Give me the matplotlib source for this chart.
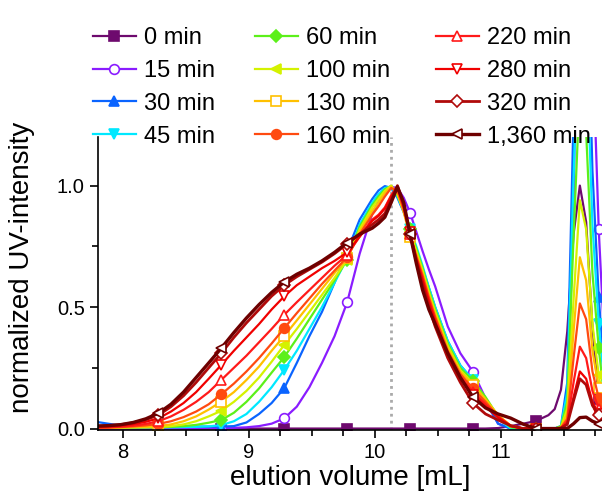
import matplotlib
matplotlib.use("Agg")
import matplotlib.pyplot as plt
import numpy as np

plt.rcParams['font.family'] = ['Liberation Sans', 'DejaVu Sans']

# elution volume grid (mL), shared by all traces
elution = [7.78, 7.88, 7.98, 8.08, 8.18, 8.28, 8.38, 8.48, 8.58, 8.68,
           8.78, 8.88, 8.98, 9.08, 9.18, 9.28, 9.38, 9.48, 9.58, 9.68,
           9.78, 9.88, 9.98,
           10.03, 10.08, 10.13, 10.18, 10.23, 10.28, 10.33, 10.38, 10.43, 10.48,
           10.58, 10.68, 10.78, 10.88, 10.98, 11.08, 11.18, 11.28, 11.38,
           11.43, 11.48, 11.53, 11.58, 11.63, 11.68, 11.73, 11.78, 11.83]
marker_x = [8.28, 8.78, 9.28, 9.78, 10.28, 10.78, 11.28, 11.78]

labels = ["0 min", "15 min", "30 min", "45 min", "60 min", "100 min",
          "130 min", "160 min", "220 min", "280 min", "320 min", "1,360 min"]

min0 = [0, 0, 0, 0, 0, 0, 0, 0, 0, 0, 0, 0, 0, 0, 0, 0, 0, 0, 0, 0, 0, 0, 0,
        0, 0, 0, 0, 0, 0, 0, 0, 0, 0,
        0, 0, 0, 0, 0.002, 0.01, 0.02, 0.031, 0.055,
        0.08, 0.16, 0.40, 0.80, 1.0, 0.85, 0.42, 0.12, 0.03]
min15 = [0, 0, 0, 0, 0, 0, 0, 0, 0, 0.001, 0.002, 0.003, 0.005, 0.01, 0.02,
         0.042, 0.09, 0.17, 0.27, 0.38, 0.519, 0.72, 0.885,
         0.935, 0.97, 0.995, 0.99, 0.95, 0.889, 0.81, 0.73, 0.655, 0.585,
         0.42, 0.31, 0.234, 0.125, 0.02, 0, 0, 0, 0,
         0, 0, 0.1, 0.9, 2.6, 3.2, 1.6, 0.82, 0.3]
min30 = [0.028, 0.02, 0.012, 0.01, 0.009, 0.008, 0.008, 0.008, 0.008, 0.008,
         0.008, 0.01, 0.025, 0.06, 0.105, 0.166, 0.27, 0.38, 0.48, 0.60,
         0.73, 0.86, 0.945,
         0.98, 0.998, 0.99, 0.95, 0.89, 0.82, 0.74, 0.66, 0.58, 0.50,
         0.36, 0.26, 0.20, 0.11, 0.02, 0, 0, 0, 0,
         0, 0.01, 0.19, 1.29, 2.3, 2.0, 1.06, 0.54, 0.2]
min45 = [0.005, 0.005, 0.005, 0.005, 0.005, 0.005, 0.005, 0.006, 0.007, 0.009,
         0.014, 0.03, 0.06, 0.11, 0.17, 0.241, 0.32, 0.41, 0.50, 0.60,
         0.70, 0.84, 0.93,
         0.965, 0.99, 0.997, 0.955, 0.895, 0.82, 0.75, 0.67, 0.58, 0.50,
         0.36, 0.26, 0.20, 0.12, 0.04, 0, 0, 0, 0,
         0, 0.01, 0.15, 1.03, 1.83, 1.6, 0.84, 0.43, 0.15]
min60 = [0.004, 0.004, 0.004, 0.004, 0.005, 0.005, 0.007, 0.01, 0.015, 0.024,
         0.035, 0.065, 0.11, 0.165, 0.23, 0.294, 0.37, 0.45, 0.53, 0.61,
         0.695, 0.83, 0.92,
         0.955, 0.985, 0.998, 0.96, 0.90, 0.82, 0.74, 0.66, 0.57, 0.49,
         0.35, 0.25, 0.197, 0.13, 0.05, 0.005, 0, 0, 0,
         0, 0.01, 0.11, 0.79, 1.40, 1.22, 0.64, 0.33, 0.1]
min100 = [0.003, 0.003, 0.004, 0.005, 0.005, 0.006, 0.01, 0.017, 0.03, 0.05,
          0.073, 0.11, 0.155, 0.21, 0.275, 0.344, 0.41, 0.48, 0.55, 0.62,
          0.695, 0.82, 0.91,
          0.945, 0.978, 1.0, 0.965, 0.895, 0.81, 0.73, 0.65, 0.56, 0.48,
          0.34, 0.24, 0.185, 0.12, 0.055, 0.01, 0, 0, 0,
          0, 0.005, 0.08, 0.53, 0.94, 0.82, 0.43, 0.22, 0.07]
min130 = [0.003, 0.003, 0.004, 0.006, 0.008, 0.01, 0.017, 0.03, 0.05, 0.078,
          0.111, 0.15, 0.20, 0.255, 0.32, 0.381, 0.445, 0.51, 0.575, 0.64,
          0.70, 0.81, 0.895,
          0.93, 0.97, 0.995, 0.97, 0.89, 0.79, 0.72, 0.64, 0.55, 0.47,
          0.33, 0.235, 0.18, 0.12, 0.055, 0.012, 0, 0, 0,
          0, 0.004, 0.06, 0.40, 0.705, 0.61, 0.32, 0.167, 0.05]
min160 = [0.003, 0.004, 0.006, 0.009, 0.013, 0.019, 0.03, 0.047, 0.07, 0.10,
          0.141, 0.185, 0.235, 0.29, 0.35, 0.413, 0.475, 0.535, 0.595, 0.65,
          0.705, 0.80, 0.88,
          0.915, 0.955, 0.99, 0.98, 0.90, 0.80, 0.71, 0.63, 0.54, 0.46,
          0.32, 0.225, 0.165, 0.11, 0.05, 0.012, 0, 0, 0,
          0, 0.003, 0.04, 0.29, 0.515, 0.45, 0.235, 0.125, 0.04]
min220 = [0.004, 0.005, 0.008, 0.012, 0.019, 0.03, 0.05, 0.077, 0.11, 0.15,
          0.20, 0.25, 0.30, 0.355, 0.41, 0.468, 0.52, 0.57, 0.62, 0.67,
          0.715, 0.79, 0.86,
          0.88, 0.91, 0.96, 0.995, 0.91, 0.80, 0.70, 0.62, 0.53, 0.45,
          0.31, 0.215, 0.15, 0.10, 0.05, 0.01, 0, 0, 0,
          0, 0.002, 0.03, 0.19, 0.337, 0.29, 0.155, 0.08, 0.03]
min280 = [0.006, 0.008, 0.012, 0.018, 0.028, 0.042, 0.07, 0.105, 0.15, 0.205,
          0.262, 0.32, 0.375, 0.43, 0.49, 0.544, 0.59, 0.625, 0.66, 0.69,
          0.725, 0.79, 0.855,
          0.875, 0.905, 0.955, 0.995, 0.915, 0.81, 0.70, 0.61, 0.52, 0.44,
          0.30, 0.205, 0.14, 0.09, 0.045, 0.01, 0, 0, 0,
          0, 0.002, 0.02, 0.13, 0.235, 0.205, 0.11, 0.06, 0.02]
min320 = [0.01, 0.012, 0.016, 0.024, 0.037, 0.055, 0.09, 0.135, 0.19, 0.25,
          0.31, 0.375, 0.435, 0.49, 0.545, 0.59, 0.625, 0.655, 0.685, 0.72,
          0.76, 0.80, 0.84,
          0.86, 0.885, 0.94, 1.0, 0.92, 0.80, 0.69, 0.59, 0.50, 0.42,
          0.29, 0.19, 0.105, 0.06, 0.035, 0.012, 0, 0, 0,
          0, 0.002, 0.017, 0.115, 0.205, 0.18, 0.095, 0.055, 0.02]
min1360 = [0.01, 0.012, 0.016, 0.025, 0.04, 0.063, 0.10, 0.15, 0.21, 0.27,
           0.331, 0.395, 0.455, 0.51, 0.56, 0.603, 0.635, 0.66, 0.69, 0.725,
           0.765, 0.80, 0.825,
           0.845, 0.87, 0.93, 0.995, 0.93, 0.80, 0.68, 0.57, 0.49, 0.43,
           0.31, 0.21, 0.13, 0.085, 0.06, 0.043, 0.018, 0, 0,
           0, 0, 0, 0.02, 0.045, 0.047, 0.03, 0.02, 0.01]

traces = [min0, min15, min30, min45, min60, min100,
          min130, min160, min220, min280, min320, min1360]
colors = ["#6E0A6E", "#8A1CFF", "#0A64FF", "#00E8FF", "#5CF01A", "#D4F200",
          "#FFC000", "#FF4A10", "#FF1A1A", "#F00000", "#B00A0A", "#6E0000"]
markers = ["s", "o", "^", "v", "D", "<", "s", "o", "^", "v", "D", "<"]
filled = [True, False, True, True, True, True,
          False, True, False, False, False, False]
widths = [1.6, 1.6, 1.6, 1.6, 1.6, 1.6, 1.6, 1.6, 1.6, 1.6, 2.0, 2.4]

x = np.array(elution)
mark_idx = [int(np.argmin(abs(x - m))) for m in marker_x]

fig = plt.figure(figsize=(6.02, 4.97), dpi=100)
ax = fig.add_axes([98/602, 1 - 430/497, 504/602, (430 - 137)/497])

ax.axvline(10.13, color="#AAAAAA", ls=(0, (1, 1.5)), lw=2, zorder=0)

handles = []
for y, c, m, f, w, lab in zip(traces, colors, markers, filled, widths, labels):
    ms = 6 if m == "D" else 7
    h, = ax.plot(x, y, color=c, lw=w, marker=m, markevery=mark_idx,
                 markersize=ms, markerfacecolor=c if f else "white",
                 markeredgecolor=c, markeredgewidth=1.2, label=lab)
    handles.append(h)

ax.set_xlim(7.8, 11.806)
ax.set_ylim(-0.006, 1.2)
ax.set_xticks([8, 9, 10, 11])
ax.set_xticks(np.arange(8.25, 11.8, 0.25), minor=True)
ax.set_yticks([0.0, 0.5, 1.0])
ax.set_yticks([0.25, 0.75], minor=True)
ax.set_yticklabels(["0.0", "0.5", "1.0"])
ax.tick_params(which="major", direction="out", length=6, width=1.2, labelsize=14.5)
ax.tick_params(which="minor", direction="out", length=4, width=1.2)
ax.spines["top"].set_visible(False)
ax.spines["right"].set_visible(False)
ax.spines["left"].set_linewidth(1.2)
ax.spines["bottom"].set_linewidth(1.2)

ax.set_xlabel("elution volume [mL]", fontsize=20, labelpad=2)
ax.set_ylabel("normalized UV-intensity", fontsize=20)
ax.yaxis.set_label_coords(-0.125, 0.556)

col_x = [93/602, 255/602, 436/602]
for i, cx in enumerate(col_x):
    leg = fig.legend(handles=handles[4*i:4*i + 4], loc="upper left",
                     bbox_to_anchor=(cx, 1 - 27/497), frameon=False,
                     fontsize=17, handlelength=1.8, handletextpad=0.35,
                     labelspacing=0.46, borderpad=0, borderaxespad=0)

fig.savefig("out.png", dpi=100)
